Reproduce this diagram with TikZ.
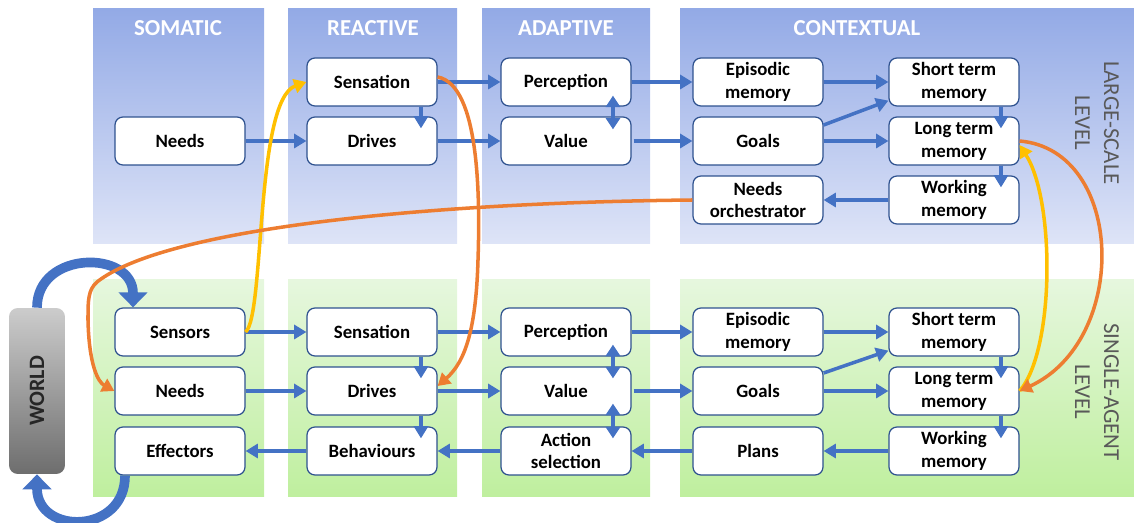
\documentclass[tikz,border=0pt]{standalone}
\usepackage{fontspec}
\setmainfont{Carlito}
\usepackage{tikz}
\usetikzlibrary{shapes,arrows.meta,backgrounds}
\definecolor{blueln}{HTML}{4472C4}
\definecolor{boxedge}{HTML}{2F528F}
\definecolor{orangeln}{HTML}{ED7D31}
\definecolor{yellowln}{HTML}{FFC000}
\definecolor{panUtop}{HTML}{93AAE6}
\definecolor{panUbot}{HTML}{DEE4F7}
\definecolor{panLtop}{HTML}{E6F7DE}
\definecolor{panLbot}{HTML}{BFEF9E}
\tikzset{
  box/.style={ draw=boxedge, line width=0.7pt, fill=white, rounded corners=4.5pt,
    minimum width=2.6cm, minimum height=0.96cm, inner sep=1pt, align=center,
    font=\fontsize{10.7}{13}\selectfont\bfseries }
}
\tikzset{
  coltitle/.style={ text=white, font=\fontsize{13}{15}\selectfont\bfseries }
}
\tikzset{
  lvlabel/.style={ rotate=-90, align=center, text=black!65, font=\fontsize{13}{16.4}\selectfont }
}
\tikzset{
  worldbox/.style={ rounded corners=5pt, top color=black!20, bottom color=black!57,
    minimum width=1.12cm, minimum height=3.32cm, inner sep=0pt,
    text=black!85, font=\fontsize{12.5}{15}\selectfont\bfseries }
}
\tikzset{
  arr/.style={ draw=blueln, line width=2pt, -{Triangle[length=7pt,width=8pt]} }
}
\tikzset{
  darr/.style={ draw=blueln, line width=2pt, {Triangle[length=6.5pt,width=8pt]}-{Triangle[length=6.5pt,width=8pt]} }
}
\tikzset{
  orarr/.style={ draw=orangeln, line width=2pt, -{Triangle[length=7pt,width=8pt]} }
}
\tikzset{
  yearr/.style={ draw=yellowln, line width=2pt, -{Triangle[length=7pt,width=8pt]} }
}
\tikzset{
  worldarr/.style={ draw=blueln, line width=5.5pt, -{Triangle[length=8.5pt,width=16pt]} }
}
\begin{document}
\begin{tikzpicture}[x=0.02cm, y=-0.02cm]
      \useasboundingbox (0,0) rectangle (1134,523);
      \foreach \xa/\xb/\xt/\ttl in {93/264/178/SOMATIC, 288/457/373/REACTIVE, 482/650/566/ADAPTIVE, 680/1134/857/CONTEXTUAL} {
        \fill[top color=panUtop, bottom color=panUbot] (\xa,9) rectangle (\xb,244);
        \fill[top color=panLtop, bottom color=panLbot] (\xa,280) rectangle (\xb,497);
        \node[coltitle] (ttl-\ttl) at (\xt,28) {\ttl};
      }
      \node[lvlabel] (lvlU) at (1097,123) {LARGE-SCALE\\LEVEL};
      \node[lvlabel] (lvlL) at (1097,392) {SINGLE-AGENT\\LEVEL};

      \node[box] (needsU) at (180,141) {Needs};
      \node[box] (sensU) at (372,82) {Sensation};
      \node[box] (drivU) at (372,141) {Drives};
      \node[box] (percU) at (566,82) {Perception};
      \node[box] (valU) at (566,141) {Value};
      \node[box] (episU) at (758,82) {Episodic\\memory};
      \node[box] (goalU) at (758,141) {Goals};
      \node[box] (orchU) at (758,200) {Needs\\orchestrator};
      \node[box] (stmU) at (954,82) {Short term\\memory};
      \node[box] (ltmU) at (954,141) {Long term\\memory};
      \node[box] (wmU) at (954,200) {Working\\memory};

      \node[worldbox] (world) at (37,391) {\rotatebox{90}{WORLD}};
      \node[box] (sensorsL) at (180,332) {Sensors};
      \node[box] (needsL) at (180,391) {Needs};
      \node[box] (effL) at (180,451) {Effectors};
      \node[box] (sensL) at (372,332) {Sensation};
      \node[box] (drivL) at (372,391) {Drives};
      \node[box] (behL) at (372,451) {Behaviours};
      \node[box] (percL) at (566,332) {Perception};
      \node[box] (valL) at (566,391) {Value};
      \node[box] (actL) at (566,451) {Action\\selection};
      \node[box] (episL) at (758,332) {Episodic\\memory};
      \node[box] (goalL) at (758,391) {Goals};
      \node[box] (planL) at (758,451) {Plans};
      \node[box] (stmL) at (954,332) {Short term\\memory};
      \node[box] (ltmL) at (954,391) {Long term\\memory};
      \node[box] (wmL) at (954,451) {Working\\memory};

      % large-scale level
      \draw[arr] (needsU) -- (drivU);
      \draw[arr] ([xshift=0.98cm]sensU.south) -- ([xshift=0.98cm,yshift=-0.24cm]drivU.north);
      \draw[arr] (sensU) -- (percU);
      \draw[arr] (drivU) -- (valU);
      \draw[darr] ([xshift=0.94cm,yshift=0.22cm]percU.south) -- ([xshift=0.94cm,yshift=-0.26cm]valU.north);
      \draw[arr] (percU) -- (episU);
      \draw[arr] ([xshift=0.04cm]valU.east) -- (goalU);
      \draw[arr] (episU) -- (stmU);
      \draw[arr] ([yshift=0.32cm]goalU.east) -- ([yshift=0.12cm]stmU.south west);
      \draw[arr] (goalU) -- (ltmU);
      \draw[arr] ([xshift=0.94cm]stmU.south) -- ([xshift=0.94cm,yshift=-0.24cm]ltmU.north);
      \draw[arr] ([xshift=0.94cm]ltmU.south) -- ([xshift=0.94cm,yshift=-0.24cm]wmU.north);
      \draw[arr] (wmU) -- (orchU);

      % single-agent level
      \draw[arr] (sensorsL) -- (sensL);
      \draw[arr] (needsL) -- (drivL);
      \draw[arr] (behL) -- (effL);
      \draw[arr] ([xshift=0.98cm]sensL.south) -- ([xshift=0.98cm,yshift=-0.24cm]drivL.north);
      \draw[arr] ([xshift=0.98cm]drivL.south) -- ([xshift=0.98cm,yshift=-0.24cm]behL.north);
      \draw[arr] (sensL) -- (percL);
      \draw[arr] (drivL) -- (valL);
      \draw[arr] (actL) -- (behL);
      \draw[darr] ([xshift=0.94cm,yshift=0.24cm]percL.south) -- ([xshift=0.94cm,yshift=-0.24cm]valL.north);
      \draw[darr] ([xshift=0.94cm,yshift=0.24cm]valL.south) -- ([xshift=0.94cm,yshift=-0.24cm]actL.north);
      \draw[arr] (percL) -- (episL);
      \draw[arr] ([xshift=0.04cm]valL.east) -- (goalL);
      \draw[arr] (planL) -- (actL);
      \draw[arr] (episL) -- (stmL);
      \draw[arr] ([yshift=0.36cm]goalL.east) -- ([yshift=0.12cm]stmL.south west);
      \draw[arr] (goalL) -- (ltmL);
      \draw[arr] ([xshift=0.94cm]stmL.south) -- ([xshift=0.94cm,yshift=-0.24cm]ltmL.north);
      \draw[arr] ([xshift=0.94cm]ltmL.south) -- ([xshift=0.94cm,yshift=-0.24cm]wmL.north);
      \draw[arr] (wmL) -- (planL);

      % world loop
      \draw[worldarr] (world.north) .. controls (37,250) and (133,250) .. ([xshift=-0.94cm]sensorsL.north);
      \draw[worldarr] ([xshift=-1.1cm]effL.south) .. controls (125,535) and (37,535) .. (world.south);

      % links between levels
      \draw[yearr] (sensorsL.east) .. controls (265,315) and (255,100) .. (sensU.west);
      \draw[orarr] ([yshift=0.1cm]sensU.east) .. controls (480,85) and (480,200) .. (478,260)
        .. controls (476,330) and (465,362) .. ([yshift=0.1cm]drivL.east);
      \draw[orarr] (orchU.west) .. controls (400,203) and (160,232) .. (97,282)
        .. controls (88,290) and (88,300) .. (88,320) .. controls (89,365) and (98,382) .. (needsL.west);
      \draw[yearr] (ltmL.east) .. controls (1055,350) and (1055,200) .. ([yshift=-0.08cm]ltmU.east);
      \draw[orarr] (ltmU.east) .. controls (1125,150) and (1130,340) .. (ltmL.east);
    \end{tikzpicture}
\end{document}
